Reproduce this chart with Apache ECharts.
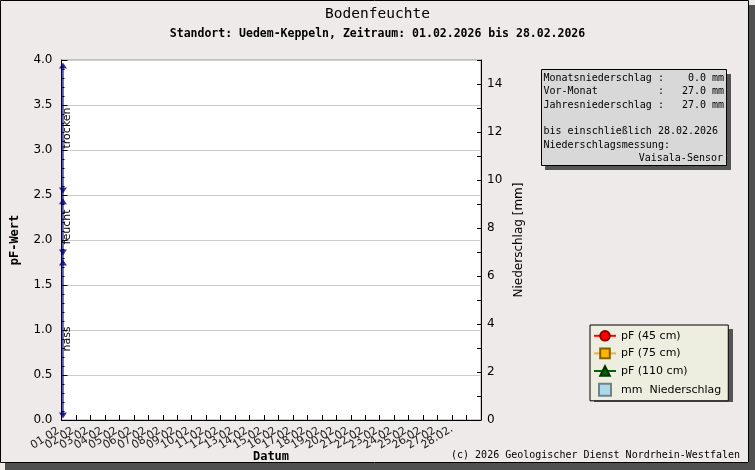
<!DOCTYPE html>
<html><head><meta charset="utf-8">
<script src="https://cdn.jsdelivr.net/npm/echarts@6/dist/echarts.min.js"></script>
<style>html,body{margin:0;padding:0;background:#EDEAE9;}#c{width:755px;height:470px;}</style>
</head><body><div id="c"></div>
<script>
// ---- data ----
const days = ['01.02.','02.02.','03.02.','04.02.','05.02.','06.02.','07.02.','08.02.','09.02.','10.02.',
  '11.02.','12.02.','13.02.','14.02.','15.02.','16.02.','17.02.','18.02.','19.02.','20.02.',
  '21.02.','22.02.','23.02.','24.02.','25.02.','26.02.','27.02.','28.02.'];
const pF45 = [];
const pF75 = [];
const pF110 = [];
const niederschlag = [];
const rangeNames = ['trocken', 'feucht', 'nass'];
const rangeUpper = [3.94, 2.43, 1.75];
const rangeLower = [2.55, 1.86, 0.05];
const rangeX = 0.1;
const rangeLabelX = 0.42;
const infoMonat = 0.0, infoVormonat = 27.0, infoJahr = 27.0;
const infoDatum = '28.02.2026';
const infoSensor = 'Vaisala-Sensor';

const MONO = '"DejaVu Sans Mono", monospace';
const SANS = '"DejaVu Sans", sans-serif';

function pad(s, n) { s = String(s); while (s.length < n) s = ' ' + s; return s; }
const infoLines = [
  'Monatsniederschlag :' + pad(infoMonat.toFixed(1), 7) + ' mm',
  'Vor-Monat          :' + pad(infoVormonat.toFixed(1), 7) + ' mm',
  'Jahresniederschlag :' + pad(infoJahr.toFixed(1), 7) + ' mm',
  '',
  'bis einschließlich ' + infoDatum,
  'Niederschlagsmessung:'
];
// axis categories: one per day plus the trailing boundary slots
const xCategories = days.concat(['', '']);

const chart = echarts.init(document.getElementById('c'), null, {renderer: 'canvas'});

const infoGraphics = [];
infoGraphics.push({type: 'rect', z: 0, shape: {x: 545, y: 74, width: 186, height: 96}, style: {fill: '#555555'}});
infoGraphics.push({type: 'rect', z: 1, shape: {x: 541.5, y: 69.5, width: 185, height: 96}, style: {fill: '#D8D8D8', stroke: '#000', lineWidth: 1}});
infoLines.forEach((t, i) => {
  if (!t) return;
  infoGraphics.push({type: 'text', z: 2, style: {text: t, x: 543.5, y: 78.3 + i * 13.35, font: '10px ' + MONO, fill: '#000', verticalAlign: 'middle', align: 'left'}});
});
infoGraphics.push({type: 'text', z: 2, style: {text: infoSensor, x: 723, y: 78.3 + 6 * 13.35, font: '10px ' + MONO, fill: '#000', verticalAlign: 'middle', align: 'right'}});

const option = {
  animation: false,
  backgroundColor: '#EDEAE9',
  title: [
    {text: 'Bodenfeuchte', left: 'center', top: 7, padding: 0,
     textStyle: {fontFamily: MONO, fontSize: 14.5, fontWeight: 'normal', color: '#000'}},
    {text: 'Standort: Uedem-Keppeln, Zeitraum: 01.02.2026 bis 28.02.2026', left: 'center', top: 28, padding: 0,
     textStyle: {fontFamily: MONO, fontSize: 11.5, fontWeight: 'bold', color: '#000'}}
  ],
  grid: {left: 61.5, right: 274, top: 60, bottom: 50, outerBoundsMode: 'none', containLabel: false,
    show: true, backgroundColor: '#FFFFFF', borderColor: '#999', borderWidth: 1},
  legend: {
    orient: 'vertical', left: 590, top: 325, padding: [5, 7, 4, 3],
    itemWidth: 22, itemHeight: 12, itemGap: 6,
    backgroundColor: '#EEEEE0', borderColor: '#000', borderWidth: 1,
    textStyle: {fontFamily: SANS, fontSize: 11, color: '#000'},
    data: [
      {name: 'pF (45 cm)'},
      {name: 'pF (75 cm)'},
      {name: 'pF (110 cm)'},
      {name: 'mm  Niederschlag', icon: 'path://M0,0L10,0L10,10L0,10Z'}
    ]
  },
  xAxis: [
    {
      type: 'category', data: xCategories, boundaryGap: false,
      axisLine: {show: true, lineStyle: {color: '#000', width: 1}},
      axisTick: {show: true, inside: true, length: 5, interval: 0, lineStyle: {color: '#000'}},
      splitLine: {show: false},
      axisLabel: {interval: 0, rotate: 32, fontSize: 11, fontFamily: SANS, color: '#222', margin: 8}
    },
    {
      type: 'value', show: false, min: 0, max: xCategories.length - 1
    }
  ],
  yAxis: [
    {
      type: 'value', position: 'left', min: 0, max: 4, interval: 0.5,
      axisLine: {show: true, lineStyle: {color: '#000'}},
      axisTick: {show: true, inside: true, length: 6, lineStyle: {color: '#000'}},
      minorTick: {show: true, splitNumber: 5, length: 3, lineStyle: {color: '#000'}},
      splitLine: {show: true, lineStyle: {color: '#CCCCCC', width: 1}},
      axisLabel: {fontSize: 12, fontFamily: SANS, color: '#000', margin: 9, formatter: v => v.toFixed(1)},
      name: 'pF-Wert', nameLocation: 'middle', nameGap: 41, nameRotate: 90,
      nameTextStyle: {fontFamily: MONO, fontSize: 12, fontWeight: 'bold', color: '#000'}
    },
    {
      type: 'value', position: 'right', min: 0, max: 15, interval: 1,
      axisLine: {show: true, lineStyle: {color: '#000'}},
      axisTick: {show: true, inside: true, length: 4, lineStyle: {color: '#000'}},
      splitLine: {show: false},
      axisLabel: {fontSize: 12, fontFamily: SANS, color: '#000', margin: 6, formatter: v => (v % 2 === 0 ? String(v) : '')},
      name: 'Niederschlag [mm]', nameLocation: 'middle', nameGap: 29, nameRotate: 90,
      nameTextStyle: {fontFamily: SANS, fontSize: 12, color: '#000'}
    }
  ],
  series: [
    {name: 'pF (45 cm)', type: 'line', data: pF45, symbol: 'circle', symbolSize: 8,
     itemStyle: {color: '#FF0000', borderColor: '#880000', borderWidth: 1}, lineStyle: {color: '#FF0000', width: 1}},
    {name: 'pF (75 cm)', type: 'line', data: pF75, symbol: 'rect', symbolSize: 8,
     itemStyle: {color: '#FFB400', borderColor: '#806000', borderWidth: 1}, lineStyle: {color: '#F0B040', width: 1}},
    {name: 'pF (110 cm)', type: 'line', data: pF110, symbol: 'triangle', symbolSize: 9,
     itemStyle: {color: '#006400', borderColor: '#003300', borderWidth: 1}, lineStyle: {color: '#006400', width: 1}},
    {name: 'mm  Niederschlag', type: 'bar', yAxisIndex: 1, data: niederschlag,
     itemStyle: {color: '#ADD8E6', borderColor: '#708090', borderWidth: 1}},
    {name: 'range', type: 'line', silent: true, symbol: 'none', xAxisIndex: 1,
     data: [[rangeX, Math.min(...rangeLower)], [rangeX, Math.max(...rangeUpper)]],
     lineStyle: {color: '#000080', width: 1.2}, z: 5},
    {name: 'rangeUp', type: 'scatter', silent: true, symbol: 'triangle', symbolSize: [8, 6], xAxisIndex: 1,
     data: rangeUpper.map(v => [rangeX, v]), itemStyle: {color: '#000080'}, z: 6},
    {name: 'rangeDown', type: 'scatter', silent: true, symbol: 'triangle', symbolSize: [8, 6], symbolRotate: 180, xAxisIndex: 1,
     data: rangeLower.map(v => [rangeX, v]), itemStyle: {color: '#000080'}, z: 6},
    {name: 'rangeLabel', type: 'scatter', silent: true, symbolSize: 0, xAxisIndex: 1,
     itemStyle: {color: '#000', opacity: 1},
     data: rangeNames.map((n, i) => ({name: n, value: [rangeLabelX, (rangeUpper[i] + rangeLower[i]) / 2]})),
     label: {show: true, position: 'inside', rotate: 90, formatter: p => p.name,
       fontFamily: SANS, fontSize: 11, color: '#000', textBorderWidth: 0, textBorderColor: 'transparent',
       align: 'center', verticalAlign: 'middle'}, z: 7}
  ],
  graphic: [
    {type: 'rect', z: 0, shape: {x: 594, y: 329, width: 139, height: 73}, style: {fill: '#555555'}},
    ...infoGraphics,
    {type: 'text', z: 2, style: {text: 'Datum', x: 271, y: 457,
      font: 'bold 12px ' + MONO, fill: '#000', align: 'center', verticalAlign: 'middle'}},
    {type: 'text', z: 2, style: {text: '(c) 2026 Geologischer Dienst Nordrhein-Westfalen', x: 740, y: 455,
      font: '10px ' + MONO, fill: '#000', align: 'right', verticalAlign: 'middle'}},
    {type: 'rect', z: 10, shape: {x: 0.5, y: 0.5, width: 748, height: 462}, style: {fill: 'none', stroke: '#000', lineWidth: 1}},
    {type: 'rect', z: 10, shape: {x: 749, y: 5, width: 6, height: 465}, style: {fill: '#505050'}},
    {type: 'rect', z: 10, shape: {x: 5, y: 463, width: 750, height: 7}, style: {fill: '#505050'}}
  ]
};
chart.setOption(option);
</script>
</body></html>
